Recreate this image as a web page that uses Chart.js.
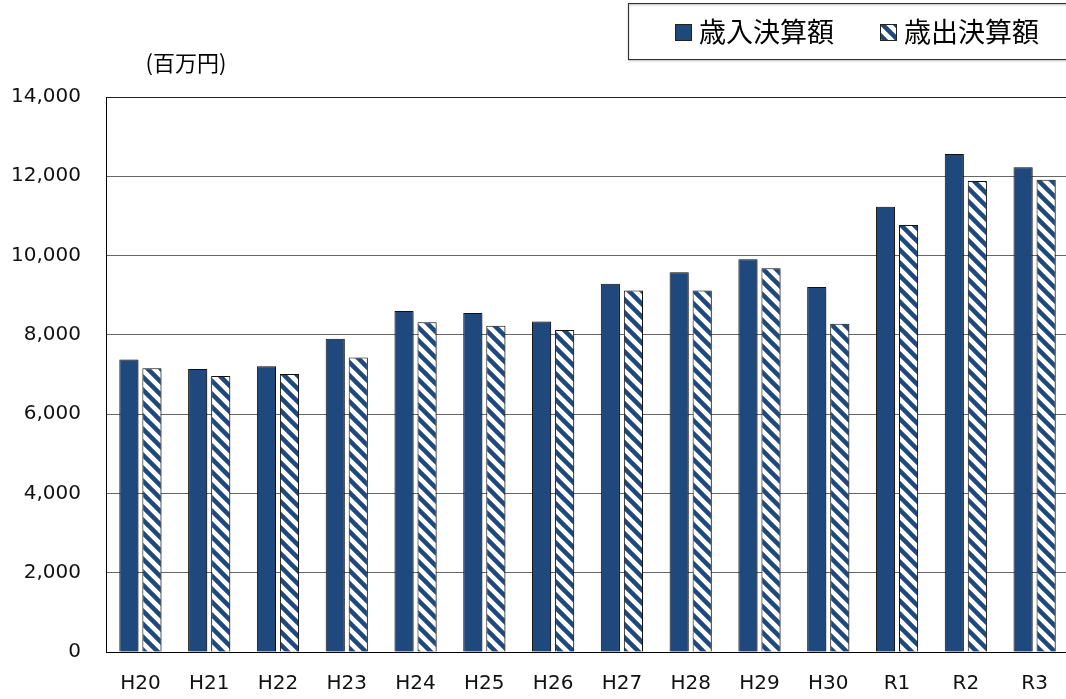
<!DOCTYPE html>
<html lang="ja">
<head>
    <meta charset="UTF-8">
    <title>歳入決算額・歳出決算額</title>
    <script src="https://cdn.jsdelivr.net/npm/chart.js"></script>
    <style>
        html, body {
            margin: 0;
            padding: 0;
            background: #fff;
            overflow: hidden;
        }
        .wrap {
            position: relative;
            width: 1069px;
            height: 699px;
        }
    </style>
</head>
<body>
    <div class="wrap">
        <canvas id="chart"></canvas>
    </div>

    <script>
        // 年度
        const years = ['H20', 'H21', 'H22', 'H23', 'H24', 'H25', 'H26', 'H27', 'H28', 'H29', 'H30', 'R1', 'R2', 'R3'];
        // 歳入決算額 (百万円)
        const revenue = [7380, 7140, 7210, 7900, 8600, 8550, 8340, 9290, 9580, 9910, 9210, 11230, 12560, 12230];
        // 歳出決算額 (百万円)
        const expenditure = [7160, 6960, 7010, 7430, 8320, 8230, 8120, 9120, 9120, 9680, 8280, 10770, 11880, 11910];
        const yTicks = [0, 2000, 4000, 6000, 8000, 10000, 12000, 14000];
        const seriesNames = ['歳入決算額', '歳出決算額'];
        const unitLabel = '(百万円)';

        const NAVY = '#1f497d';
        const JP_FONT = '"Noto Sans CJK JP", "Noto Sans", sans-serif';
        const NUM_FONT = '"DejaVu Sans", Verdana, sans-serif';

        // diagonal stripe fill for 歳出
        function makeStripes() {
            const size = 13;
            const c = document.createElement('canvas');
            c.width = size;
            c.height = size;
            const g = c.getContext('2d');
            g.fillStyle = '#fff';
            g.fillRect(0, 0, size, size);
            g.strokeStyle = NAVY;
            g.lineWidth = 4.5;
            for (let k = -1; k <= 1; k++) {
                g.beginPath();
                g.moveTo(k * size - 2, -2);
                g.lineTo(k * size + size + 2, size + 2);
                g.stroke();
            }
            return g.createPattern(c, 'repeat');
        }
        const stripes = makeStripes();

        // soft shadow under the bars
        const barShadow = {
            id: 'barShadow',
            beforeDatasetsDraw(chart) {
                const ctx = chart.ctx;
                ctx.save();
                ctx.shadowColor = 'rgba(0,0,0,0.35)';
                ctx.shadowBlur = 2;
                ctx.shadowOffsetX = 1.5;
                ctx.shadowOffsetY = 1;
            },
            afterDatasetsDraw(chart) {
                chart.ctx.restore();
            }
        };

        // boxed legend at top right + unit label
        const boxLegend = {
            id: 'boxLegend',
            afterDraw(chart) {
                const ctx = chart.ctx;
                const area = chart.chartArea;
                ctx.save();

                // legend frame
                ctx.shadowColor = 'rgba(0,0,0,0.4)';
                ctx.shadowBlur = 2;
                ctx.shadowOffsetY = 1;
                ctx.strokeStyle = '#333';
                ctx.lineWidth = 1;
                ctx.strokeRect(628.5, 3.5, chart.width, 56);
                ctx.shadowColor = 'transparent';

                ctx.font = '27px ' + JP_FONT;
                ctx.textBaseline = 'middle';
                ctx.textAlign = 'left';
                const itemX = [675, 880];
                chart.data.datasets.forEach((ds, i) => {
                    const x = itemX[i];
                    ctx.fillStyle = ds.backgroundColor;
                    ctx.fillRect(x, 24, 17, 17);
                    ctx.strokeStyle = '#222';
                    ctx.lineWidth = 1;
                    ctx.strokeRect(x + 0.5, 24.5, 16, 16);
                    ctx.fillStyle = '#000';
                    ctx.fillText(ds.label, x + 24, 32);
                });

                // unit
                ctx.font = '22px ' + JP_FONT;
                ctx.textAlign = 'center';
                ctx.fillStyle = '#000';
                ctx.fillText(unitLabel, area.left + 80, 63);
                ctx.restore();
            }
        };

        const ctx = document.getElementById('chart').getContext('2d');
        const chart = new Chart(ctx, {
            type: 'bar',
            data: {
                labels: years,
                datasets: [{
                    label: seriesNames[0],
                    data: revenue,
                    backgroundColor: NAVY,
                    borderColor: '#111',
                    borderWidth: 1
                }, {
                    label: seriesNames[1],
                    data: expenditure,
                    backgroundColor: stripes,
                    borderColor: '#111',
                    borderWidth: 1
                }]
            },
            options: {
                responsive: true,
                maintainAspectRatio: false,
                animation: false,
                categoryPercentage: 0.67,
                barPercentage: 0.83,
                layout: {
                    padding: { top: 97, left: 10, right: 0, bottom: 0 }
                },
                scales: {
                    x: {
                        afterFit(scale) { scale.height = 47; },
                        grid: { display: false, drawTicks: false },
                        border: { display: true, color: '#000', width: 1 },
                        ticks: {
                            color: '#111',
                            padding: 20,
                            font: { family: NUM_FONT, size: 20 }
                        }
                    },
                    y: {
                        min: 0,
                        max: 14000,
                        afterFit(scale) { scale.width = 96; },
                        afterBuildTicks(scale) {
                            scale.ticks = yTicks.map(v => ({ value: v }));
                        },
                        grid: {
                            drawTicks: false,
                            color: (c) => (c.tick && c.tick.value === 14000) ? '#222' : '#666',
                            lineWidth: 1
                        },
                        border: { display: true, color: '#000', width: 1 },
                        ticks: {
                            color: '#111',
                            padding: 25,
                            font: { family: NUM_FONT, size: 20 },
                            callback: (v) => v.toLocaleString('en-US')
                        }
                    }
                },
                plugins: {
                    legend: { display: false },
                    tooltip: { enabled: false }
                }
            },
            plugins: [barShadow, boxLegend]
        });
    </script>
</body>
</html>
